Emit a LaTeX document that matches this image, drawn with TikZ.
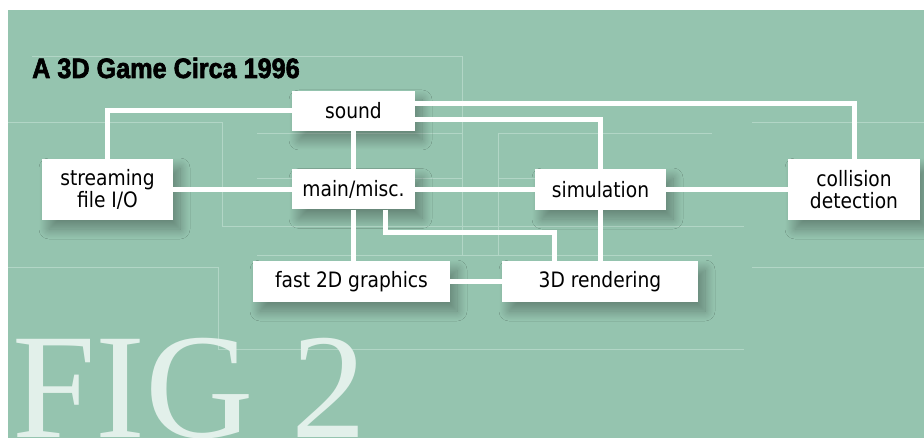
\documentclass[tikz,border=0pt]{standalone}
\usepackage{fontspec}
\usepackage{tikz}
\usetikzlibrary{shadows.blur}
\newfontfamily\boxfont[FakeStretch=0.88]{DejaVu Sans}
\newfontfamily\titlefont[BoldFeatures={FakeBold=2.4}]{Liberation Sans}
\newfontfamily\figfont{Liberation Serif}
\definecolor{seagreen}{RGB}{149,196,175}
\definecolor{paleline}{RGB}{178,214,198}
\definecolor{palefig}{RGB}{226,240,234}
\tikzset{
  box/.style={fill=white,inner sep=0pt,align=center,
    font=\boxfont\fontsize{21.2}{22}\selectfont,
    blur shadow={shadow xshift=7pt,shadow yshift=-9pt,shadow blur radius=10pt,
      shadow blur steps=20,shadow opacity=32}},
  wire/.style={white,line width=5pt},
  faint/.style={paleline,line width=0.8pt}
}

\begin{document}
\begin{tikzpicture}[x=1pt,y=-1pt]
\useasboundingbox (0,0) rectangle (924,438);
\fill[seagreen] (8,10) rectangle (924,438);
\draw[faint] (32,56) -- (462,56) -- (462,255);
\draw[faint] (8,122) -- (222,122) -- (222,226) -- (744,226);
\draw[faint] (712,133) -- (498,133) -- (498,255);
\draw[faint] (8,267) -- (218,267) -- (218,349) -- (744,349);
\foreach \y/\a/\b in {133/257/462,178/257/462,255/257/712,178/498/535,122/752/924,267/752/924}
  \draw[faint] (\a,\y) -- (\b,\y);
\node[anchor=base west,inner sep=0pt,text=palefig,font=\figfont\fontsize{150}{150}\selectfont] (fig) at (12,437) {FIG 2};
\node[anchor=base west,inner sep=0pt,font=\titlefont\bfseries\fontsize{28}{30}\selectfont] (title) at (32,78) {\scalebox{0.9}[1]{A 3D Game Circa 1996}};

\node[box,minimum width=123pt,minimum height=40pt] (sound) at (353.5,111) {sound};
\node[box,minimum width=123pt,minimum height=40pt] (main) at (353.5,189.5) {main/misc.};
\node[box,minimum width=131pt,minimum height=61pt] (stream) at (107.5,189.5) {streaming\\file I/O};
\node[box,minimum width=131pt,minimum height=41pt] (sim) at (600.5,189.5) {simulation};
\node[box,minimum width=132pt,minimum height=61pt] (coll) at (854,189.5) {collision\\detection};
\node[box,minimum width=197pt,minimum height=41pt] (fast) at (351.5,281.5) {fast 2D graphics};
\node[box,minimum width=196pt,minimum height=41pt] (render) at (600,281.5) {3D rendering};

\draw[wire] (sound.west) -| (stream.north);
\draw[wire] ([yshift=7.5pt]sound.east) -| (coll.north);
\draw[wire] ([yshift=-8.5pt]sound.east) -| (sim.north);
\draw[wire] (sound) -- (main);
\draw[wire] (stream) -- (main);
\draw[wire] (main) -- (sim);
\draw[wire] (sim) -- (coll);
\draw[wire] (main.south) -- (main.south |- fast.north);
\draw[wire] ([xshift=32pt]main.south) -- ++(0,22.5) -| ([xshift=-45.5pt]render.north);
\draw[wire] (sim.south) -- (sim.south |- render.north);
\draw[wire] (fast) -- (render);
\end{tikzpicture}
\end{document}
